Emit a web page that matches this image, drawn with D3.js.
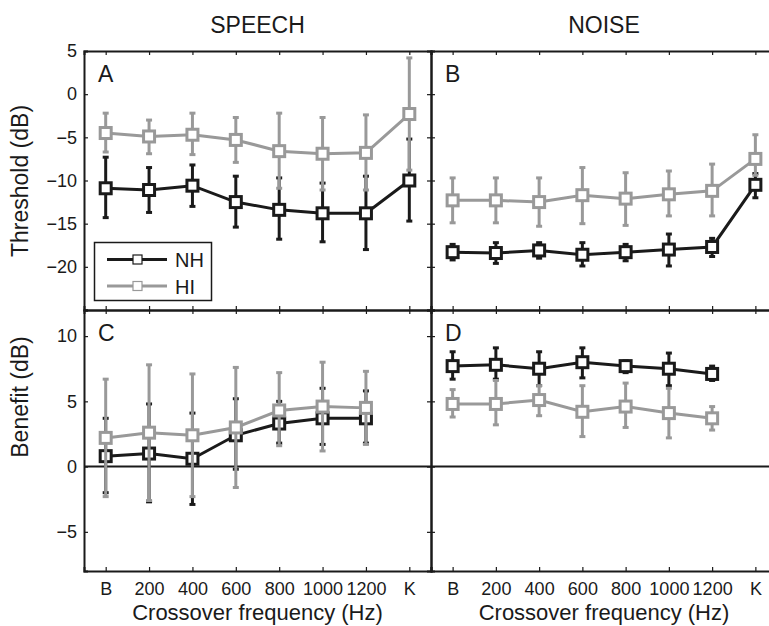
<!DOCTYPE html>
<html>
<head>
<meta charset="utf-8">
<script src="https://cdn.jsdelivr.net/npm/d3@7"></script>
<style>
  body { margin: 0; background: #fff; }
  svg text { font-family: "Liberation Sans", Arial, Helvetica, sans-serif; fill: #1a1a1a; }
</style>
</head>
<body>
<div id="chart"></div>
<script>
// crossover categories
const freqLabels = ["B", "200", "400", "600", "800", "1000", "1200", "K"];

// A: speech thresholds
const spThrNH    = [-10.9, -11.1, -10.6, -12.5, -13.4, -13.8, -13.8, -10.0];
const spThrNHTop = [-7.3, -8.5, -8.2, -9.5, -9.7, -10.3, -9.5, -5.2];
const spThrNHBot = [-14.3, -13.7, -13.0, -15.4, -16.8, -17.1, -18.0, -14.7];
const spThrHI    = [-4.5, -4.9, -4.7, -5.3, -6.6, -6.9, -6.8, -2.3];
const spThrHITop = [-2.2, -3.0, -2.2, -2.7, -2.2, -2.7, -2.4, 4.2];
const spThrHIBot = [-6.7, -6.9, -7.0, -7.9, -10.9, -11.1, -11.1, -8.8];

// B: noise thresholds
const nzThrNH    = [-18.3, -18.4, -18.1, -18.6, -18.3, -18.0, -17.7, -10.5];
const nzThrNHTop = [-17.4, -17.2, -17.2, -17.2, -17.4, -16.2, -16.7, -9.2];
const nzThrNHBot = [-19.2, -19.6, -19.0, -19.9, -19.3, -19.9, -18.8, -12.0];
const nzThrHI    = [-12.3, -12.3, -12.5, -11.7, -12.1, -11.6, -11.2, -7.5];
const nzThrHITop = [-9.7, -9.7, -9.7, -8.5, -9.1, -8.9, -8.1, -4.7];
const nzThrHIBot = [-14.9, -14.9, -15.3, -15.0, -15.2, -14.1, -14.1, -9.4];

// C: speech benefit
const spBenNH    = [0.8, 1.0, 0.6, 2.4, 3.3, 3.7, 3.7];
const spBenNHTop = [3.7, 4.8, 4.1, 5.2, 5.0, 6.0, 5.8];
const spBenNHBot = [-2.0, -2.7, -2.9, -0.2, 1.8, 1.7, 1.8];
const spBenHI    = [2.2, 2.6, 2.4, 3.0, 4.3, 4.6, 4.5];
const spBenHITop = [6.7, 7.8, 7.1, 7.6, 7.2, 8.0, 7.3];
const spBenHIBot = [-2.3, -2.6, -2.3, -1.6, 1.6, 1.2, 1.7];

// D: noise benefit
const nzBenNH    = [7.7, 7.8, 7.5, 8.0, 7.7, 7.5, 7.1];
const nzBenNHTop = [8.8, 9.1, 8.8, 9.1, 8.1, 8.7, 7.7];
const nzBenNHBot = [6.7, 6.7, 6.2, 6.8, 7.2, 6.2, 6.6];
const nzBenHI    = [4.8, 4.8, 5.1, 4.2, 4.6, 4.1, 3.7];
const nzBenHITop = [5.9, 6.6, 6.2, 6.2, 6.4, 6.0, 4.6];
const nzBenHIBot = [3.8, 3.2, 3.9, 2.3, 3.0, 2.2, 2.8];

const thrTicks = [5, 0, -5, -10, -15, -20];
const benTicks = [10, 5, 0, -5];

const colNH = "#1a1a1a", colHI = "#999999";

var width = 769, height = 626;

var svg = d3.select("#chart")
    .append("svg")
    .attr("width", width)
    .attr("height", height);

// panel boxes
const cols = [{x0: 84, x1: 431}, {x0: 431, x1: 777}];
const rows = [{y0: 51, y1: 310, domain: [-25, 5], ticks: thrTicks},
              {y0: 310, y1: 571, domain: [-8, 12], ticks: benTicks}];

function series(mean, top, bot) {
    return mean.map((m, i) => ({i: i + 1, m: m, top: top[i], bot: bot[i]}));
}

const panels = [
    {r: 0, c: 0, letter: "A", nh: series(spThrNH, spThrNHTop, spThrNHBot), hi: series(spThrHI, spThrHITop, spThrHIBot)},
    {r: 0, c: 1, letter: "B", nh: series(nzThrNH, nzThrNHTop, nzThrNHBot), hi: series(nzThrHI, nzThrHITop, nzThrHIBot)},
    {r: 1, c: 0, letter: "C", nh: series(spBenNH, spBenNHTop, spBenNHBot), hi: series(spBenHI, spBenHITop, spBenHIBot)},
    {r: 1, c: 1, letter: "D", nh: series(nzBenNH, nzBenNHTop, nzBenNHBot), hi: series(nzBenHI, nzBenHITop, nzBenHIBot)}
];

panels.forEach(function (p) {
    var col = cols[p.c], row = rows[p.r];
    var x = d3.scaleLinear().domain([0.5, 8.5]).range([col.x0, col.x1]);
    var y = d3.scaleLinear().domain(row.domain).range([row.y1, row.y0]);
    var g = svg.append("g");

    // zero line for benefit panels
    if (p.r == 1) {
        g.append("line")
            .attr("x1", col.x0).attr("x2", col.x1)
            .attr("y1", y(0)).attr("y2", y(0))
            .attr("stroke", colNH).attr("stroke-width", 2);
    }

    // axes (inward ticks)
    var left = g.append("g")
        .attr("transform", "translate(" + col.x0 + ",0)")
        .call(d3.axisLeft(y).tickValues(row.ticks).tickSize(-4).tickPadding(7));
    if (p.c == 1) left.selectAll("text").remove();
    g.append("g")
        .attr("transform", "translate(" + col.x1 + ",0)")
        .call(d3.axisRight(y).tickValues(row.ticks).tickSize(-4).tickFormat(""));
    var bottom = g.append("g")
        .attr("transform", "translate(0," + row.y1 + ")")
        .call(d3.axisBottom(x).tickValues(d3.range(1, 9)).tickSize(-4).tickPadding(11)
            .tickFormat(d => freqLabels[d - 1]));
    if (p.r == 0) bottom.selectAll("text").remove();
    g.append("g")
        .attr("transform", "translate(0," + row.y0 + ")")
        .call(d3.axisTop(x).tickValues(d3.range(1, 9)).tickSize(-4).tickFormat(""));

    g.selectAll(".domain").attr("stroke", colNH).attr("stroke-width", 2);
    g.selectAll(".tick line").attr("stroke", colNH).attr("stroke-width", 1.2);
    g.selectAll(".tick text").attr("font-size", 18).attr("fill", colNH);

    // panel letter
    g.append("text")
        .attr("x", col.x0 + 14)
        .attr("y", row.y0 + 31)
        .attr("font-size", 23)
        .text(p.letter);

    drawSeries(g, x, y, p.nh, colNH);
    drawSeries(g, x, y, p.hi, colHI);
});

function drawSeries(g, x, y, data, color) {
    var bars = g.append("g");
    bars.selectAll("line.bar")
        .data(data).enter().append("line")
        .attr("x1", d => x(d.i)).attr("x2", d => x(d.i))
        .attr("y1", d => y(d.top)).attr("y2", d => y(d.bot))
        .attr("stroke", color).attr("stroke-width", 3);
    ["top", "bot"].forEach(function (k) {
        bars.selectAll("line.cap" + k)
            .data(data).enter().append("line")
            .attr("x1", d => x(d.i) - 3).attr("x2", d => x(d.i) + 3)
            .attr("y1", d => y(d[k])).attr("y2", d => y(d[k]))
            .attr("stroke", color).attr("stroke-width", 3);
    });

    g.append("path")
        .datum(data)
        .attr("fill", "none")
        .attr("stroke", color)
        .attr("stroke-width", 3)
        .attr("d", d3.line().x(d => x(d.i)).y(d => y(d.m)));

    g.selectAll(null)
        .data(data).enter().append("rect")
        .attr("x", d => x(d.i) - 5.5).attr("y", d => y(d.m) - 5.5)
        .attr("width", 11).attr("height", 11)
        .attr("fill", "#fff")
        .attr("stroke", color).attr("stroke-width", 3);
}

// titles
svg.append("text").attr("x", 257.5).attr("y", 33).attr("text-anchor", "middle")
    .attr("font-size", 23).text("SPEECH");
svg.append("text").attr("x", 604).attr("y", 33).attr("text-anchor", "middle")
    .attr("font-size", 23).text("NOISE");

// axis labels
svg.append("text").attr("transform", "translate(28,181) rotate(-90)")
    .attr("text-anchor", "middle").attr("font-size", 23).text("Threshold (dB)");
svg.append("text").attr("transform", "translate(28,397) rotate(-90)")
    .attr("text-anchor", "middle").attr("font-size", 23).text("Benefit (dB)");
svg.append("text").attr("x", 257.5).attr("y", 620).attr("text-anchor", "middle")
    .attr("font-size", 22).text("Crossover frequency (Hz)");
svg.append("text").attr("x", 604).attr("y", 620).attr("text-anchor", "middle")
    .attr("font-size", 22).text("Crossover frequency (Hz)");

// legend
var legend = svg.append("g");
legend.append("rect")
    .attr("x", 94.5).attr("y", 242.5).attr("width", 117).attr("height", 58)
    .attr("fill", "#fff").attr("stroke", colNH).attr("stroke-width", 1.5);
[{name: "NH", color: colNH, y: 259.5}, {name: "HI", color: colHI, y: 286}].forEach(function (l) {
    legend.append("line")
        .attr("x1", 107).attr("x2", 167).attr("y1", l.y).attr("y2", l.y)
        .attr("stroke", l.color).attr("stroke-width", 3);
    legend.append("rect")
        .attr("x", 133).attr("y", l.y - 4.5).attr("width", 9).attr("height", 9)
        .attr("fill", "#fff").attr("stroke", l.color).attr("stroke-width", 1.2);
    legend.append("text")
        .attr("x", 175).attr("y", l.y + 7.5)
        .attr("font-size", 20).text(l.name);
});
</script>
</body>
</html>
